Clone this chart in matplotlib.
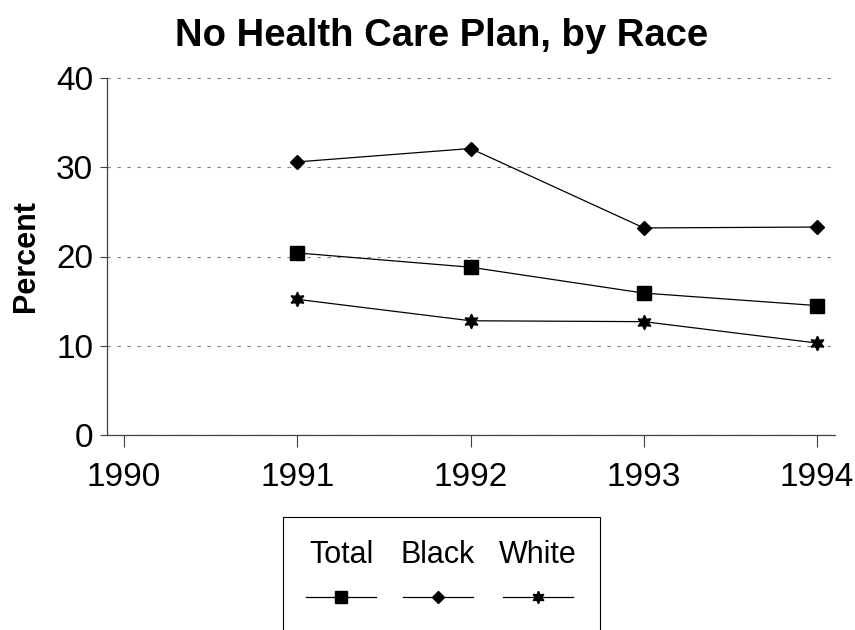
import matplotlib

matplotlib.use("Agg")
import matplotlib.pyplot as plt
from matplotlib.offsetbox import VPacker

plt.rcParams["font.family"] = ["Liberation Sans", "DejaVu Sans"]

years = [1991, 1992, 1993, 1994]
total = [20.4, 18.8, 15.9, 14.5]
black = [30.6, 32.1, 23.2, 23.3]
white = [15.2, 12.8, 12.7, 10.3]
labels = ["Total", "Black", "White"]
x_ticks = [1990, 1991, 1992, 1993, 1994]
y_ticks = [0, 10, 20, 30, 40]

markers = {"Total": ("s", 9.4), "Black": ("D", 7.2), "White": ((6, 1, 0), 10.5)}

fig = plt.figure(figsize=(8.55, 6.3), dpi=100)
ax = fig.add_axes([107 / 855, 1 - 435 / 630, 728 / 855, 357 / 630])

handles = []
for name, values in zip(labels, [total, black, white]):
    marker, size = markers[name]
    (line,) = ax.plot(years, values, color="black", linewidth=0.9,
                      marker=marker, markersize=size, markerfacecolor="black",
                      markeredgecolor="black", label=name, zorder=3)
    handles.append(line)

ax.set_xlim(1989.902, 1994.103)
ax.set_ylim(0, 40)
ax.set_xticks(x_ticks)
ax.set_yticks(y_ticks)
ax.tick_params(axis="x", length=8.5, width=0.8, pad=11, labelsize=24, colors="#404040", labelcolor="black")
ax.tick_params(axis="y", length=5, width=0.8, pad=5, labelsize=24, colors="#404040", labelcolor="black")
ax.yaxis.grid(True, linestyle=(0, (3, 6)), color="#808080", linewidth=0.8)
ax.set_axisbelow(True)
for side in ("top", "right"):
    ax.spines[side].set_visible(False)
for side in ("left", "bottom"):
    ax.spines[side].set_color("#404040")
    ax.spines[side].set_linewidth(0.9)

ax.set_ylabel("Percent", fontsize=22, fontweight="bold", labelpad=11)
fig.suptitle("No Health Care Plan, by Race", x=0.517, y=0.972, fontsize=27.5, fontweight="bold")

leg = fig.legend(handles, labels, ncol=3, loc="upper left",
                 bbox_to_anchor=(283 / 855, 1 - 517 / 630), fontsize=22,
                 frameon=True, fancybox=False, edgecolor="black", framealpha=1,
                 handlelength=2.3, columnspacing=0.8, borderpad=0.75,
                 borderaxespad=0, markerscale=0.85, numpoints=1)
leg.get_frame().set_linewidth(0.8)

# put each label above its line sample, like the original legend
fs = leg._fontsize
for col in leg._legend_handle_box.get_children():
    col.align = "center"
    items = col.get_children()
    for i, item in enumerate(items):
        handle_box, text_box = item.get_children()
        box = VPacker(pad=0, sep=0.55 * fs, align="center", children=[text_box, handle_box])
        box.set_figure(fig)
        items[i] = box

fig.savefig("out.png", dpi=100)
